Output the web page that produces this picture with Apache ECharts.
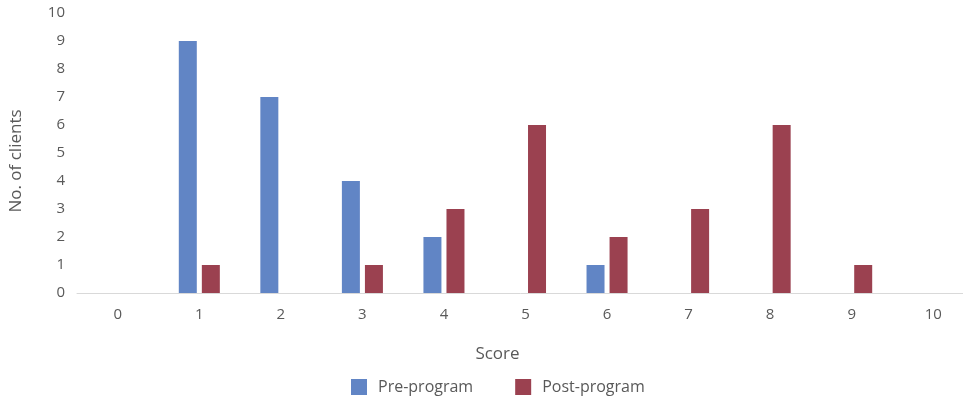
<!DOCTYPE html>
<html><head><meta charset="utf-8">
<script src="https://cdn.jsdelivr.net/npm/echarts@6/dist/echarts.min.js"></script>
<style>html,body{margin:0;padding:0;background:#fff}#c{width:963px;height:403px}</style>
</head><body><div id="c"></div>
<script>
const categories = ['0','1','2','3','4','5','6','7','8','9','10'];
const preProgram = [0, 9, 7, 4, 2, 0, 1, 0, 0, 0, 0];
const postProgram = [0, 1, 0, 1, 3, 6, 2, 3, 6, 1, 0];
const yTicks = {min: 0, max: 10, interval: 1};

const font = '"Open Sans", "DejaVu Sans", sans-serif';
const chart = echarts.init(document.getElementById('c'));
chart.setOption({
  animation: false,
  textStyle: {fontFamily: font},
  grid: {left: 77, width: 897, top: 13, bottom: 110, outerBoundsMode: 'none', containLabel: false},
  legend: {
    data: ['Pre-program', 'Post-program'],
    top: 374, left: 346,
    itemWidth: 16, itemHeight: 16, itemGap: 42,
    icon: 'rect',
    textStyle: {color: '#595959', fontSize: 16, fontFamily: font, padding: [0, 0, 0, 6]}
  },
  xAxis: {
    type: 'category', data: categories,
    name: 'Score', nameLocation: 'middle', nameGap: 53,
    nameTextStyle: {color: '#595959', fontSize: 17, padding: [0, 56, 0, 0]},
    axisLine: {lineStyle: {color: '#d9d9d9', width: 1}},
    axisTick: {show: false},
    axisLabel: {color: '#595959', fontSize: 15, margin: 14}
  },
  yAxis: {
    type: 'value', min: yTicks.min, max: yTicks.max, interval: yTicks.interval,
    name: 'No. of clients', nameLocation: 'middle', nameGap: 52,
    nameTextStyle: {color: '#595959', fontSize: 17, padding: [0, 0, 0, -16]},
    axisLine: {show: false}, axisTick: {show: false},
    splitLine: {show: false},
    axisLabel: {color: '#595959', fontSize: 15, margin: 12}
  },
  series: [
    {name: 'Pre-program', type: 'bar', data: preProgram, barWidth: 18, barGap: '28%',
     itemStyle: {color: '#6185C5'}},
    {name: 'Post-program', type: 'bar', data: postProgram, barWidth: 18,
     itemStyle: {color: '#9B4150'}}
  ]
});
</script></body></html>
